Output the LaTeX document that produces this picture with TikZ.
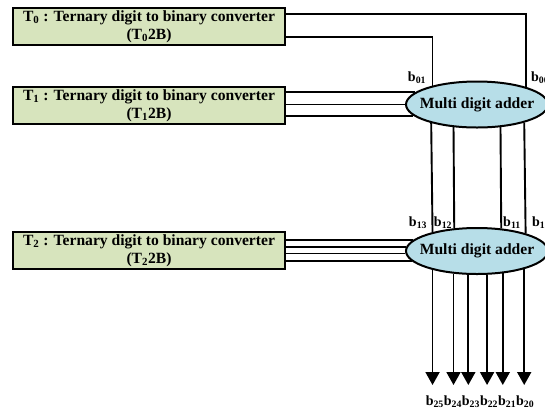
\documentclass[tikz,border=0pt]{standalone}
\usepackage{fontspec}
\setmainfont{Liberation Serif}
\usetikzlibrary{shapes.geometric,arrows.meta}
\definecolor{convfill}{HTML}{D7E4BD}
\definecolor{adderfill}{HTML}{B7DEE8}
\begin{document}
\begin{tikzpicture}[x=1pt,y=-1pt,
  conv/.style={draw=black,line width=2.2pt,fill=convfill,minimum width=272pt,
    minimum height=37pt,inner sep=0pt,align=center,
    font=\fontsize{15.6}{17.5}\selectfont\bfseries},
  adder/.style={draw=black,line width=2pt,fill=adderfill,ellipse,
    minimum width=142pt,minimum height=46pt,inner sep=0pt,
    font=\fontsize{15.6}{17}\selectfont\bfseries},
  wire/.style={line width=1.9pt},
  outarrow/.style={line width=1.9pt,-{Triangle[width=14pt,length=13pt]}},
  lbl/.style={inner sep=0pt,font=\fontsize{14}{15}\selectfont\bfseries}]
\useasboundingbox (0,0) rectangle (545,410);

% converter blocks
\node[conv] (t0) at (149,26.5) {T\textsubscript{0} : Ternary digit to binary converter\\(T\textsubscript{0}2B)};
\node[conv] (t1) at (149,105.5) {T\textsubscript{1} : Ternary digit to binary converter\\(T\textsubscript{1}2B)};
\node[conv] (t2) at (149,250.5) {T\textsubscript{2} : Ternary digit to binary converter\\(T\textsubscript{2}2B)};

% adders
\node[adder] (e1) at (477,104.5) {\makebox[0pt]{Multi digit adder}};
\node[adder] (e2) at (477,251) {\makebox[0pt]{Multi digit adder}};

% level of the output arrow tips
\coordinate (tips) at (0,385);

% T0 outputs
\draw[wire] ([yshift=12.5pt]t0.east) -| (e1.20.85);
\draw[wire] ([yshift=-10.5pt]t0.east) -| (e1.157.7);

% T1 outputs
\foreach \a in {169.41,180,190.59}
  \draw[wire] (t1.east |- e1.\a) -- (e1.\a);

% first adder outputs
\draw[wire] (e1.202.3) -- (e2.157.7);
\draw[wire] (e1.224.83) -- (e2.135.17);
\draw[wire] (e1.316.59) -- (e2.43.41);
\draw[wire] (e1.339.86) -- (e2.20.14);

% T2 outputs
\foreach \a in {170.56,177.14,182.86,189.44}
  \draw[wire] (t2.east |- e2.\a) -- (e2.\a);

% final outputs
\foreach \a in {203.06,224.83,250.71,293.71,319.26,339.86}
  \draw[outarrow] (e2.\a) -- (e2.\a |- tips);

% bit labels
\node[lbl] (b01) at (417,78) {b\textsubscript{01}};
\node[lbl,anchor=west] (b00) at (531,78) {b\textsubscript{00}};
\node[lbl] (b13) at (418,223) {b\textsubscript{13}};
\node[lbl] (b12) at (443,223) {b\textsubscript{12}};
\node[lbl] (b11) at (512,223) {b\textsubscript{11}};
\node[lbl,anchor=west] (b10) at (532,223) {b\textsubscript{10}};
\node[lbl] (bout) at (480,402) {b\textsubscript{25}b\textsubscript{24}b\textsubscript{23}b\textsubscript{22}b\textsubscript{21}b\textsubscript{20}};
\end{tikzpicture}
\end{document}
